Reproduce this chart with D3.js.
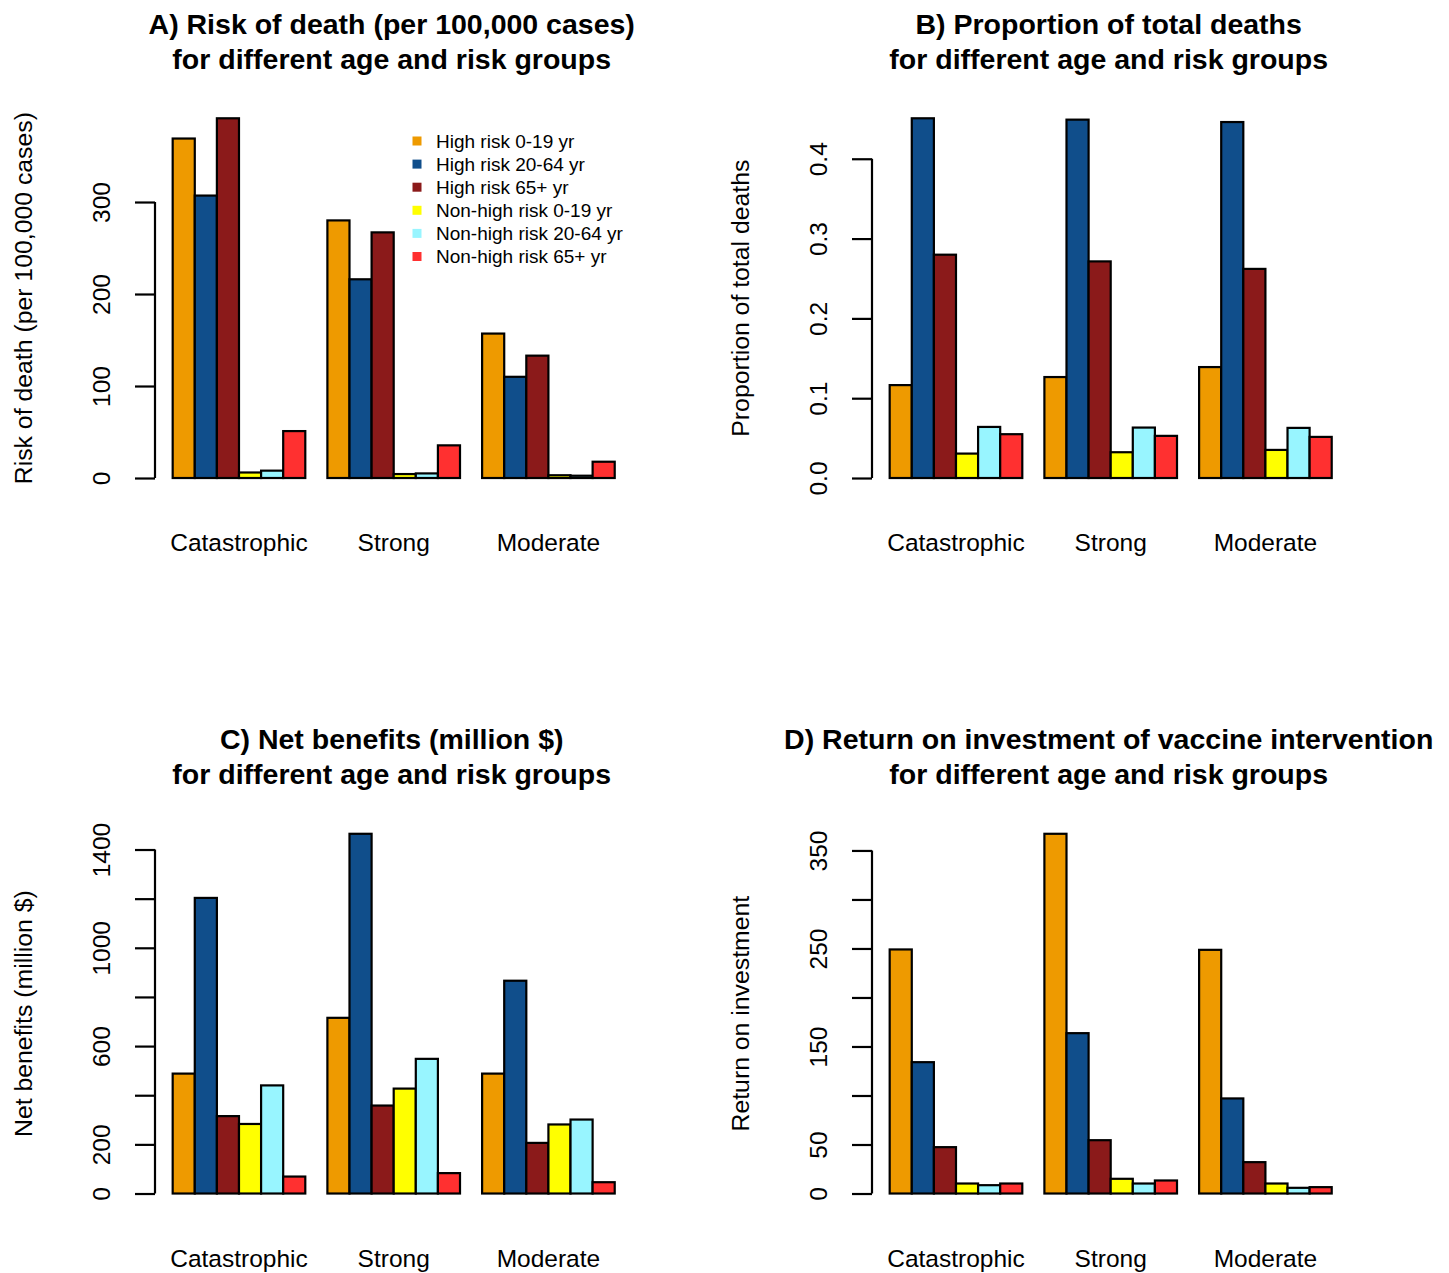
<!DOCTYPE html>
<html>
<head>
<meta charset="utf-8">
<script src="https://cdn.jsdelivr.net/npm/d3@7"></script>
<style>
  html, body { margin: 0; padding: 0; background: #fff; }
  svg { display: block; }
  text { font-family: "Liberation Sans", Arial, sans-serif; fill: #000; }
</style>
</head>
<body>
<svg id="chart" width="1449" height="1273"></svg>
<script>
// ---------- DATA ----------
const categories = ["Catastrophic", "Strong", "Moderate"];
const seriesNames = ["High risk 0-19 yr", "High risk 20-64 yr", "High risk 65+ yr",
                     "Non-high risk 0-19 yr", "Non-high risk 20-64 yr", "Non-high risk 65+ yr"];
const seriesColors = ["#EE9A00", "#104E8B", "#8B1A1A", "#FFFF00", "#98F5FF", "#FF3030"];

// values[category][series]
const riskOfDeath = [
  [369, 307, 391, 6, 8, 51],
  [280, 216, 267, 4.3, 5, 35.5],
  [157, 110, 133, 3, 2.5, 17.7]
];
const proportionDeaths = [
  [0.1164, 0.4507, 0.2798, 0.0306, 0.0640, 0.0549],
  [0.1265, 0.4490, 0.2714, 0.0323, 0.0632, 0.0528],
  [0.1390, 0.4460, 0.2620, 0.0352, 0.0628, 0.0515]
];
const netBenefits = [
  [488, 1203, 315, 283, 440, 69],
  [715, 1464, 358, 427, 548, 83],
  [488, 866, 206, 281, 301, 46]
];
const returnOnInvestment = [
  [249, 134, 47.3, 10.2, 8.5, 10.2],
  [367, 163.6, 54.4, 15, 10.2, 13.3],
  [248.6, 97, 32, 10.2, 5.8, 6.5]
];

const ticksA = [0, 100, 200, 300];
const tickLabelsA = ["0", "100", "200", "300"];
const ticksB = [0, 0.1, 0.2, 0.3, 0.4];
const tickLabelsB = ["0.0", "0.1", "0.2", "0.3", "0.4"];
const ticksC = [0, 200, 400, 600, 800, 1000, 1200, 1400];
const tickLabelsC = ["0", "200", "", "600", "", "1000", "", "1400"];
const ticksD = [0, 50, 100, 150, 200, 250, 300, 350];
const tickLabelsD = ["0", "50", "", "150", "", "250", "", "350"];

const panels = [
  { title: ["A) Risk of death (per 100,000 cases)", "for different age and risk groups"],
    ylab: "Risk of death (per 100,000 cases)", values: riskOfDeath,
    ticks: ticksA, tickLabels: tickLabelsA, col: 0, row: 0, legend: true },
  { title: ["B) Proportion of total deaths", "for different age and risk groups"],
    ylab: "Proportion of total deaths", values: proportionDeaths,
    ticks: ticksB, tickLabels: tickLabelsB, col: 1, row: 0 },
  { title: ["C) Net benefits (million $)", "for different age and risk groups"],
    ylab: "Net benefits (million $)", values: netBenefits,
    ticks: ticksC, tickLabels: tickLabelsC, col: 0, row: 1 },
  { title: ["D) Return on investment of vaccine intervention", "for different age and risk groups"],
    ylab: "Return on investment", values: returnOnInvestment,
    ticks: ticksD, tickLabels: tickLabelsD, col: 1, row: 1 }
];

// ---------- LAYOUT ----------
const svg = d3.select("#chart");
const plotLeft = 155, plotRight = 632.4, plotTop = 103.9, plotBottom = 492.4;
const dx = 717, dy = 715.5;

panels.forEach(p => {
  const ox = p.col * dx, oy = p.row * dy;
  const g = svg.append("g").attr("transform", `translate(${ox},${oy})`);

  const maxV = d3.max(p.values.flat());
  const y = d3.scaleLinear().domain([-0.04 * maxV, 1.04 * maxV]).range([plotBottom, plotTop]);
  const x0 = d3.scaleBand().domain(categories).range([plotLeft, plotRight])
    .paddingInner(1 / 7).paddingOuter(0.8 / 7);
  const x1 = d3.scaleBand().domain(seriesNames).range([0, x0.bandwidth()]).padding(0);

  // bars
  categories.forEach((c, ci) => {
    g.append("g").selectAll("rect")
      .data(p.values[ci].map((v, si) => ({ v, s: seriesNames[si], color: seriesColors[si] })))
      .join("rect")
      .attr("x", d => x0(c) + x1(d.s))
      .attr("width", x1.bandwidth())
      .attr("y", d => y(d.v))
      .attr("height", d => y(0) - y(d.v))
      .attr("fill", d => d.color)
      .attr("stroke", "#000")
      .attr("stroke-width", 2.2);
  });

  // y axis (R style: line from first to last tick)
  const axis = d3.axisLeft(y).tickValues(p.ticks)
    .tickFormat((d, i) => p.tickLabels[i]).tickSize(20).tickSizeOuter(0).tickPadding(0);
  const ag = g.append("g").attr("transform", `translate(${plotLeft},0)`).call(axis);
  ag.select(".domain").attr("d", `M0,${y(p.ticks[0])}V${y(p.ticks[p.ticks.length - 1])}`)
    .attr("stroke", "#000").attr("stroke-width", 2.2);
  ag.selectAll(".tick line").attr("stroke", "#000").attr("stroke-width", 2.2);
  ag.selectAll(".tick text")
    .attr("x", 0).attr("dy", null).attr("y", 0)
    .attr("transform", "translate(-45,0) rotate(-90)")
    .attr("text-anchor", "middle")
    .style("font-size", "24.5px")
    .style("font-family", '"Liberation Sans", Arial, sans-serif');

  // y label
  g.append("text")
    .attr("transform", `translate(32,${(plotTop + plotBottom) / 2}) rotate(-90)`)
    .attr("text-anchor", "middle")
    .style("font-size", "24.8px")
    .text(p.ylab);

  // x labels
  g.append("g").selectAll("text").data(categories).join("text")
    .attr("x", d => x0(d) + x0.bandwidth() / 2)
    .attr("y", 551)
    .attr("text-anchor", "middle")
    .style("font-size", "24.5px")
    .text(d => d);

  // title
  const cx = (plotLeft + plotRight) / 2 - 2;
  p.title.forEach((t, i) => {
    g.append("text")
      .attr("x", cx).attr("y", 33.5 + i * 35)
      .attr("text-anchor", "middle")
      .style("font-size", "28.5px").style("font-weight", "bold")
      .text(t);
  });

  // legend
  if (p.legend) {
    const lg = g.append("g");
    seriesNames.forEach((s, i) => {
      const cy = 141 + i * 23.1;
      lg.append("rect").attr("x", 412.5).attr("y", cy - 4.5).attr("width", 9).attr("height", 9)
        .attr("fill", seriesColors[i]);
      lg.append("text").attr("x", 436).attr("y", cy + 6.6)
        .style("font-size", "19px").text(s);
    });
  }
});
</script>
</body>
</html>
